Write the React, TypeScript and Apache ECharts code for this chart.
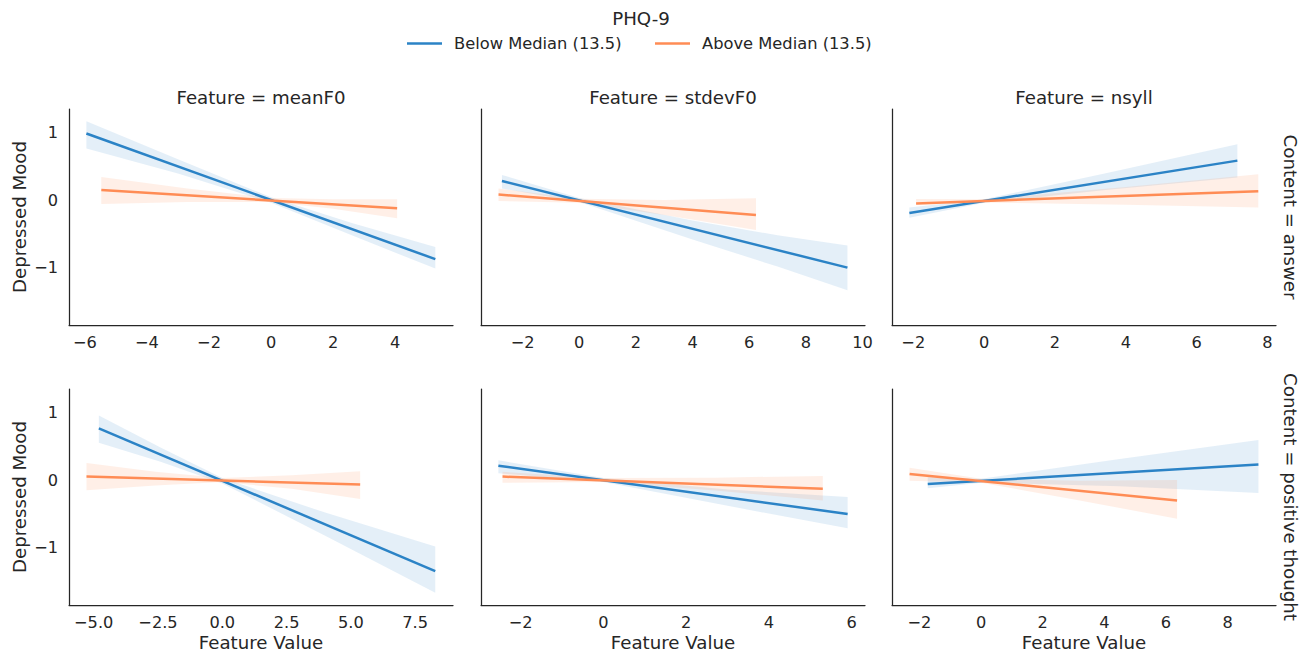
import React, { useEffect, useRef } from "react";
import * as echarts from "echarts";

// ---- categories ----
const features = ["meanF0", "stdevF0", "nsyll"];
const contents = ["answer", "positive thought"];
const hueNames = ["Below Median (13.5)", "Above Median (13.5)"];
const legendTitle = "PHQ-9";
const yLabel = "Depressed Mood";
const xLabel = "Feature Value";

// ---- regression lines [x, y] and CI bands [x, lower, upper] ----
// Content = answer
const ansMeanF0BelowLine = [[-5.95, 0.98], [5.29, -0.87]];
const ansMeanF0BelowBand = [[-5.95, 0.76, 1.16], [-3, 0.39, 0.6], [0, -0.04, 0.04], [2.6, -0.52, -0.34], [5.29, -1.01, -0.69]];
const ansMeanF0AboveLine = [[-5.47, 0.147], [4.06, -0.12]];
const ansMeanF0AboveBand = [[-5.47, -0.06, 0.34], [-2.7, -0.03, 0.17], [0, -0.03, 0.03], [2, -0.13, 0.01], [4.06, -0.27, 0.01]];

const ansStdevF0BelowLine = [[-2.73, 0.28], [9.47, -0.995]];
const ansStdevF0BelowBand = [[-2.73, 0.17, 0.37], [0, -0.03, 0.03], [4, -0.58, -0.3], [7, -0.98, -0.52], [9.47, -1.33, -0.67]];
const ansStdevF0AboveLine = [[-2.85, 0.08], [6.24, -0.22]];
const ansStdevF0AboveBand = [[-2.85, -0.015, 0.17], [0, -0.04, 0.02], [3, -0.22, 0.0], [6.24, -0.44, 0.025]];

const ansNsyllBelowLine = [[-2.11, -0.19], [7.15, 0.58]];
const ansNsyllBelowBand = [[-2.11, -0.26, -0.11], [0, -0.04, 0.01], [3.5, 0.15, 0.4], [7.15, 0.33, 0.82]];
const ansNsyllAboveLine = [[-1.92, -0.05], [7.74, 0.13]];
const ansNsyllAboveBand = [[-1.92, -0.07, 0.015], [0, -0.035, 0.01], [4, -0.07, 0.19], [7.74, -0.11, 0.38]];

// Content = positive thought
const posMeanF0BelowLine = [[-4.8, 0.76], [8.28, -1.34]];
const posMeanF0BelowBand = [[-4.8, 0.55, 0.95], [-2.4, 0.27, 0.48], [0, -0.05, 0.03], [4, -0.82, -0.48], [8.28, -1.66, -0.98]];
const posMeanF0AboveLine = [[-5.28, 0.05], [5.36, -0.065]];
const posMeanF0AboveBand = [[-5.28, -0.15, 0.25], [-2.6, -0.08, 0.12], [0, -0.03, 0.03], [2.7, -0.13, 0.07], [5.36, -0.28, 0.13]];

const posStdevF0BelowLine = [[-2.54, 0.21], [5.9, -0.5]];
const posStdevF0BelowBand = [[-2.54, 0.1, 0.29], [0, -0.03, 0.03], [3, -0.38, -0.14], [5.9, -0.71, -0.25]];
const posStdevF0AboveLine = [[-2.44, 0.05], [5.3, -0.13]];
const posStdevF0AboveBand = [[-2.44, -0.04, 0.12], [0, -0.03, 0.03], [2.7, -0.155, 0.035], [5.3, -0.3, 0.06]];

const posNsyllBelowLine = [[-1.73, -0.06], [9.0, 0.23]];
const posNsyllBelowBand = [[-1.73, -0.12, 0.04], [0, -0.04, 0.02], [4.5, -0.09, 0.31], [9.0, -0.19, 0.59]];
const posNsyllAboveLine = [[-2.32, 0.09], [6.36, -0.3]];
const posNsyllAboveBand = [[-2.32, -0.01, 0.18], [0, -0.04, 0.02], [3.2, -0.3, -0.01], [6.36, -0.57, 0.0]];

// ---- axis limits and tick labels ----
const yRange = [-1.84, 1.34];
const yTicks = [-1, 0, 1];
const xRangesAnswer = [[-6.51, 5.86], [-3.47, 10.09], [-2.6, 8.24]];
const xRangesPositive = [[-5.96, 8.97], [-2.96, 6.32], [-2.89, 9.57]];
const xTicksAnswer = [[-6, -4, -2, 0, 2, 4], [-2, 0, 2, 4, 6, 8, 10], [-2, 0, 2, 4, 6, 8]];
const xTicksPositive = [[-5, -2.5, 0, 2.5, 5, 7.5], [-2, 0, 2, 4, 6], [-2, 0, 2, 4, 6, 8]];
const xTickDecimalsPositive = [1, 0, 0];

const panelLines = [
  [[ansMeanF0BelowLine, ansMeanF0AboveLine], [ansStdevF0BelowLine, ansStdevF0AboveLine], [ansNsyllBelowLine, ansNsyllAboveLine]],
  [[posMeanF0BelowLine, posMeanF0AboveLine], [posStdevF0BelowLine, posStdevF0AboveLine], [posNsyllBelowLine, posNsyllAboveLine]],
];
const panelBands = [
  [[ansMeanF0BelowBand, ansMeanF0AboveBand], [ansStdevF0BelowBand, ansStdevF0AboveBand], [ansNsyllBelowBand, ansNsyllAboveBand]],
  [[posMeanF0BelowBand, posMeanF0AboveBand], [posStdevF0BelowBand, posStdevF0AboveBand], [posNsyllBelowBand, posNsyllAboveBand]],
];

const COLORS = ["#2b83c6", "#ff8c55"];
const BAND_COLORS = ["rgba(43,131,198,0.13)", "rgba(255,140,85,0.14)"];
const TEXT = "#262626";
const FONT = "DejaVu Sans";
const LABEL_SIZE = 18.2;
const TICK_SIZE = 16.2;
const LEGEND_SIZE = 16.3;

const fmt = (v: number, dec: number) => {
  const s = Math.abs(v).toFixed(dec);
  return (v < 0 ? "\u2212" : "") + s;
};

export default function App() {
  const ref = useRef<HTMLDivElement>(null);
  useEffect(() => {
    if (!ref.current) return;
    const chart = echarts.init(ref.current, null, { renderer: "svg" });

    const colLeft = [69, 481, 892];
    const rowTop = [109, 389];
    const pw = 384;
    const ph = 216;

    const grids: any[] = [];
    const xAxes: any[] = [];
    const yAxes: any[] = [];
    const series: any[] = [];
    const graphics: any[] = [];

    for (let r = 0; r < 2; r++) {
      for (let c = 0; c < 3; c++) {
        const idx = r * 3 + c;
        grids.push({ left: colLeft[c], top: rowTop[r], width: pw, height: ph });
        const range = r === 0 ? xRangesAnswer[c] : xRangesPositive[c];
        const ticks = r === 0 ? xTicksAnswer[c] : xTicksPositive[c];
        const dec = r === 0 ? 0 : xTickDecimalsPositive[c];
        xAxes.push({
          type: "value",
          gridIndex: idx,
          min: range[0],
          max: range[1],
          axisLine: { show: true, onZero: false, lineStyle: { color: TEXT, width: 1.25 } },
          axisTick: { show: false },
          splitLine: { show: false },
          axisLabel: {
            customValues: ticks,
            formatter: (v: number) => fmt(v, dec),
            color: TEXT,
            fontSize: TICK_SIZE,
            fontFamily: FONT,
            margin: 9,
          },
        });
        yAxes.push({
          type: "value",
          gridIndex: idx,
          min: yRange[0],
          max: yRange[1],
          axisLine: { show: true, onZero: false, lineStyle: { color: TEXT, width: 1.25 } },
          axisTick: { show: false },
          splitLine: { show: false },
          axisLabel: {
            show: c === 0,
            customValues: yTicks,
            formatter: (v: number) => fmt(v, 0),
            color: TEXT,
            fontSize: TICK_SIZE,
            fontFamily: FONT,
            margin: 11,
          },
        });
        // bands
        for (let h = 0; h < 2; h++) {
          const band = panelBands[r][c][h];
          series.push({
            type: "custom",
            name: hueNames[h] + " CI",
            xAxisIndex: idx,
            yAxisIndex: idx,
            data: band,
            encode: { x: 0, y: [1, 2] },
            silent: true,
            z: 1,
            renderItem: (params: any, api: any) => {
              if (params.dataIndex !== 0) return null;
              const upper = band.map((p) => api.coord([p[0], p[2]]));
              const lower = band.slice().reverse().map((p) => api.coord([p[0], p[1]]));
              return {
                type: "polygon",
                shape: { points: upper.concat(lower) },
                style: { fill: BAND_COLORS[h], stroke: "none" },
              };
            },
          });
        }
        for (let h = 0; h < 2; h++) {
          series.push({
            type: "line",
            name: hueNames[h],
            xAxisIndex: idx,
            yAxisIndex: idx,
            data: panelLines[r][c][h],
            showSymbol: false,
            symbol: "none",
            z: 3,
            lineStyle: { color: COLORS[h], width: 2.5, cap: "butt" },
            itemStyle: { color: COLORS[h] },
          });
        }
        if (r === 0) {
          graphics.push({
            type: "text",
            x: colLeft[c] + pw / 2,
            y: 97,
            style: {
              text: "Feature = " + features[c],
              align: "center",
              verticalAlign: "middle",
              fontSize: LABEL_SIZE,
              fontFamily: FONT,
              fill: TEXT,
            },
          });
        }
        if (r === 1) {
          graphics.push({
            type: "text",
            x: colLeft[c] + pw / 2,
            y: 642,
            style: {
              text: xLabel,
              align: "center",
              verticalAlign: "middle",
              fontSize: LABEL_SIZE,
              fontFamily: FONT,
              fill: TEXT,
            },
          });
        }
      }
      // y label
      graphics.push({
        type: "text",
        x: 19,
        y: rowTop[r] + ph / 2,
        rotation: Math.PI / 2,
        style: {
          text: yLabel,
          align: "center",
          verticalAlign: "middle",
          fontSize: LABEL_SIZE,
          fontFamily: FONT,
          fill: TEXT,
        },
      });
      // row label
      graphics.push({
        type: "text",
        x: 1290,
        y: rowTop[r] + ph / 2,
        rotation: -Math.PI / 2,
        style: {
          text: "Content = " + contents[r],
          align: "center",
          verticalAlign: "middle",
          fontSize: LABEL_SIZE,
          fontFamily: FONT,
          fill: TEXT,
        },
      });
    }

    // legend
    graphics.push({
      type: "text",
      x: 641,
      y: 18,
      style: { text: legendTitle, align: "center", verticalAlign: "middle", fontSize: LABEL_SIZE, fontFamily: FONT, fill: TEXT },
    });
    const legX = [407, 655];
    for (let h = 0; h < 2; h++) {
      graphics.push({
        type: "line",
        shape: { x1: legX[h], y1: 43.5, x2: legX[h] + 35, y2: 43.5 },
        style: { stroke: COLORS[h], lineWidth: 2.5 },
      });
      graphics.push({
        type: "text",
        x: legX[h] + 47,
        y: 43.5,
        style: { text: hueNames[h], align: "left", verticalAlign: "middle", fontSize: LEGEND_SIZE, fontFamily: FONT, fill: TEXT },
      });
    }

    chart.setOption({
      animation: false,
      backgroundColor: "#ffffff",
      grid: grids,
      xAxis: xAxes,
      yAxis: yAxes,
      series,
      graphic: graphics,
    });
    return () => chart.dispose();
  }, []);

  return (
    <div
      ref={ref}
      style={{ position: "fixed", left: 0, top: 0, width: 1309, height: 652, background: "#fff" }}
    />
  );
}
